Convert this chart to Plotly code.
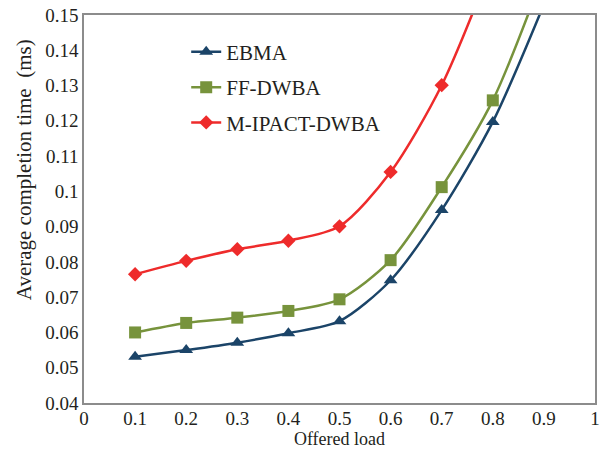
import plotly.graph_objects as go

# Offered load and average completion time (ms) per scheme
offered_load = [0.1, 0.2, 0.3, 0.4, 0.5, 0.6, 0.7, 0.8, 0.9]
ebma = [0.0531, 0.0550, 0.0571, 0.0598, 0.0632, 0.0748, 0.0947, 0.1197, 0.153]
ff_dwba = [0.0600, 0.0627, 0.0642, 0.0661, 0.0694, 0.0805, 0.1012, 0.1258, 0.162]
m_ipact_dwba = [0.0765, 0.0803, 0.0836, 0.0860, 0.0901, 0.1055, 0.1301, 0.165, 0.205]

x_ticks = [0, 0.1, 0.2, 0.3, 0.4, 0.5, 0.6, 0.7, 0.8, 0.9, 1]
x_tick_text = ["0", "0.1", "0.2", "0.3", "0.4", "0.5", "0.6", "0.7", "0.8", "0.9", "1"]
y_ticks = [0.04, 0.05, 0.06, 0.07, 0.08, 0.09, 0.10, 0.11, 0.12, 0.13, 0.14, 0.15]
y_tick_text = ["0.04", "0.05", "0.06", "0.07", "0.08", "0.09", "0.1",
               "0.11", "0.12", "0.13", "0.14", "0.15"]

FONT = "Liberation Serif"
TEXT = "#231f20"

series = [
    ("EBMA", ebma, "#1b4468", "triangle-up", 12),
    ("FF-DWBA", ff_dwba, "#77933c", "square", 12),
    ("M-IPACT-DWBA", m_ipact_dwba, "#ee2b2b", "diamond", 11),
]

fig = go.Figure()
for name, ys, color, symbol, size in series:
    fig.add_trace(go.Scatter(
        x=offered_load, y=ys, name=name, legendgroup=name,
        mode="lines+markers",
        line=dict(color=color, width=2.5, shape="spline", smoothing=0.8),
        marker=dict(symbol=symbol, size=size, color=color),
        cliponaxis=True,
    ))

axis_common = dict(
    showgrid=False, zeroline=False, showline=True, mirror=True,
    linecolor="#8c8c8c", linewidth=1.5, ticks="", automargin=False,
    tickfont=dict(family=FONT, size=19, color=TEXT),
)

fig.update_layout(
    width=604, height=449,
    margin=dict(l=84, r=9, t=15, b=46),
    paper_bgcolor="white", plot_bgcolor="white",
    font=dict(family=FONT, size=18, color=TEXT),
    showlegend=True,
    legend=dict(
        x=0.2, y=0.957, xanchor="left", yanchor="top",
        bgcolor="rgba(0,0,0,0)", borderwidth=0,
        font=dict(family=FONT, size=21, color=TEXT),
        tracegroupgap=5,
    ),
    xaxis=dict(
        range=[0, 1], tickvals=x_ticks, ticktext=x_tick_text,
        ticklabelstandoff=-3,
        title=dict(text="Offered load", standoff=4,
                   font=dict(family=FONT, size=18, color=TEXT)),
        **axis_common,
    ),
    yaxis=dict(
        range=[0.04, 0.15], tickvals=y_ticks, ticktext=y_tick_text,
        **axis_common,
    ),
    annotations=[dict(
        text="Average completion time\u00a0\u00a0(ms)",
        xref="paper", yref="paper", x=0, y=0.6,
        xanchor="center", yanchor="middle", xshift=-60,
        textangle=-90, showarrow=False,
        font=dict(family=FONT, size=21, color=TEXT),
    )],
)

fig.write_html("out.html")
